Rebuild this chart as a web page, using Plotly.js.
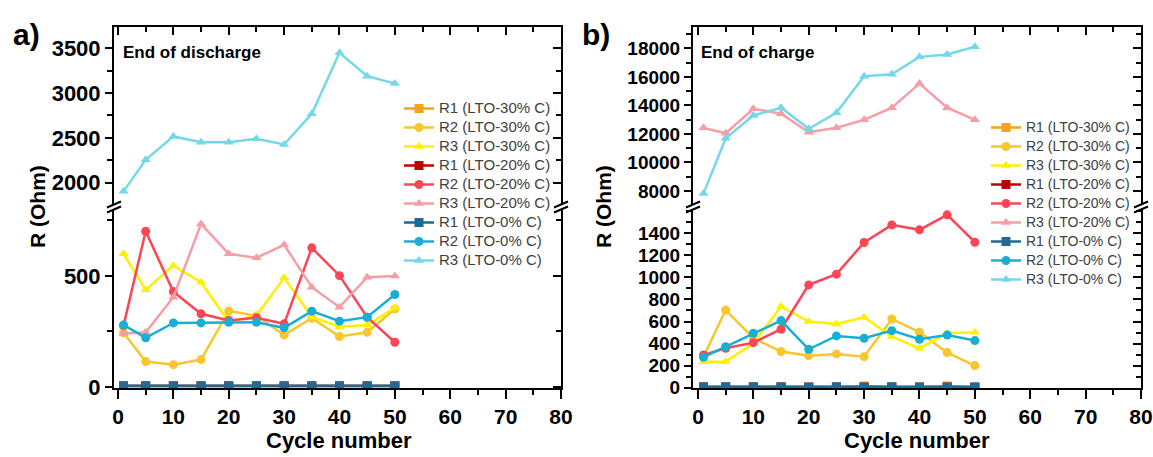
<!DOCTYPE html>
<html><head><meta charset="utf-8">
<script src="https://cdn.plot.ly/plotly-3.0.1.min.js"></script>
<style>html,body{margin:0;padding:0;background:#fff}#chart{width:1153px;height:457px}</style>
</head><body><div id="chart"></div>
<script>
// ---------------- data ----------------
const cycles = [1, 5, 10, 15, 20, 25, 30, 35, 40, 45, 50];
const seriesNames = ['R1 (LTO-30% C)', 'R2 (LTO-30% C)', 'R3 (LTO-30% C)',
                     'R1 (LTO-20% C)', 'R2 (LTO-20% C)', 'R3 (LTO-20% C)',
                     'R1 (LTO-0% C)', 'R2 (LTO-0% C)', 'R3 (LTO-0% C)'];

// a) End of discharge
const a_R1_30 = [4, 4, 4, 4, 4, 4, 4, 4, 4, 4, 4];
const a_R2_30 = [244, 114, 100, 123, 342, 320, 234, 309, 227, 246, 351];
const a_R3_30 = [599, 437, 546, 471, 293, 321, 491, 315, 271, 279, 356];
const a_R1_20 = [4, 4, 4, 4, 4, 4, 4, 4, 4, 4, 4];
const a_R2_20 = [276, 701, 429, 329, 299, 311, 284, 626, 501, 314, 201];
const a_R3_20 = [240, 246, 404, 734, 599, 581, 640, 449, 359, 494, 499];
const a_R1_0  = [5, 5, 5, 5, 5, 5, 5, 5, 5, 5, 5];
const a_R2_0  = [279, 221, 288, 288, 291, 291, 266, 341, 296, 314, 416];
const a_R3_0  = [1904, 2255, 2516, 2452, 2452, 2490, 2426, 2769, 3448, 3187, 3105];

// b) End of charge
const b_R1_30 = [5, 5, 5, 5, 5, 5, 15, 5, 5, 15, 5];
const b_R2_30 = [280, 704, 450, 327, 290, 306, 281, 623, 503, 318, 200];
const b_R3_30 = [236, 236, 403, 735, 599, 578, 639, 463, 357, 493, 503];
const b_R1_20 = [5, 5, 5, 5, 5, 5, 5, 5, 5, 5, 5];
const b_R2_20 = [297, 357, 408, 530, 932, 1029, 1316, 1476, 1431, 1567, 1319];
const b_R3_20 = [12425, 12044, 13766, 13413, 12114, 12425, 12989, 13836, 15530, 13836, 12987];
const b_R1_0  = [8, 8, 8, 8, 5, 8, 5, 8, 5, 5, 5];
const b_R2_0  = [276, 372, 493, 608, 348, 469, 448, 517, 439, 478, 427];
const b_R3_0  = [7810, 11690, 13293, 13836, 12354, 13483, 16045, 16186, 17407, 17577, 18113];

const panelA = [a_R1_30, a_R2_30, a_R3_30, a_R1_20, a_R2_20, a_R3_20, a_R1_0, a_R2_0, a_R3_0];
const panelB = [b_R1_30, b_R2_30, b_R3_30, b_R1_20, b_R2_20, b_R3_20, b_R1_0, b_R2_0, b_R3_0];

// tick labels
const aLowTicks = [0, 500];
const aUpTicks = [2000, 2500, 3000, 3500];
const bLowTicks = [0, 200, 400, 600, 800, 1000, 1200, 1400];
const bUpTicks = [8000, 10000, 12000, 14000, 16000, 18000];

// ---------------- style ----------------
const seriesColors = ['#F5A31A', '#F9C62E', '#FFF000', '#C00000', '#FA4655', '#F59EA6', '#1F6A96', '#18AFD4', '#75D8E8'];
const seriesSymbols = ['square', 'circle', 'triangle-up', 'square', 'circle', 'triangle-up', 'square', 'circle', 'triangle-up'];

const W = 1153, H = 457;
const px = v => v / W, py = v => 1 - v / H;
const FONT = 'Liberation Sans, Arial, sans-serif';

const yLowDom = [py(388), py(209)];
const yUpDom = [py(205), py(27)];

const ranges = {
  a: {x: [-0.72, 80], low: [-5, 801], up: [1752, 3735]},
  b: {x: [-0.9, 80], low: [-3, 1620], up: [7010, 19503]}
};

function makeTraces(values, xa, yLow, yUp, lowTop, legendId, legendSize) {
  return values.map((vals, i) => ({
    type: 'scatter', mode: 'lines+markers',
    x: cycles, y: vals,
    name: '<span style="font-size:' + legendSize + 'px">' + seriesNames[i] + '</span>',
    xaxis: xa, yaxis: Math.max(...vals) > lowTop ? yUp : yLow,
    legend: legendId,
    line: {color: seriesColors[i], width: 2.5},
    marker: {color: seriesColors[i], symbol: seriesSymbols[i], size: 9}
  }));
}

const dummy = (xa, ya) => ({type: 'scatter', x: [], y: [], xaxis: xa, yaxis: ya, showlegend: false, hoverinfo: 'skip'});

const traces = [
  ...makeTraces(panelA, 'x', 'y', 'y2', ranges.a.low[1], 'legend', 15),
  ...makeTraces(panelB, 'x2', 'y3', 'y4', ranges.b.low[1], 'legend2', 14),
  dummy('x3', 'y2'), dummy('x', 'y5'), dummy('x', 'y6'),
  dummy('x4', 'y4'), dummy('x2', 'y7'), dummy('x2', 'y8')
];

const xTickFont = {family: FONT, size: 21, color: '#000', weight: 'bold'};
const yTickFontA = {family: FONT, size: 22, color: '#000', weight: 'bold'};
const yTickFontB = {family: FONT, size: 19, color: '#000', weight: 'bold'};
const base = {showgrid: false, zeroline: false, showline: true, linecolor: '#000', linewidth: 2,
              tickcolor: '#000', tickwidth: 2, fixedrange: true, automargin: false, separatethousands: false,
              exponentformat: 'none'};

function xBottom(dom, range) {
  return Object.assign({}, base, {domain: dom, range: range, dtick: 10, tick0: 0, ticks: 'outside', ticklen: 9,
    tickfont: xTickFont,
    minor: {dtick: 5, tick0: 0, ticks: 'outside', ticklen: 5, tickwidth: 2, tickcolor: '#000'}});
}
function xTop(over, anchor, dom, range) {
  return Object.assign({}, base, {overlaying: over, anchor: anchor, side: 'top', domain: dom, range: range,
    dtick: 10, tick0: 0, ticks: 'inside', ticklen: 8, showticklabels: false,
    minor: {dtick: 5, tick0: 0, ticks: 'inside', ticklen: 5, tickwidth: 2, tickcolor: '#000'}});
}
function yLeft(anchor, dom, range, tv, mdt, font) {
  return Object.assign({}, base, {anchor: anchor, domain: dom, range: range, tickmode: 'array', tickvals: tv,
    ticktext: tv.map(String), ticks: 'outside', ticklen: 7, tickfont: font,
    minor: {dtick: mdt, tick0: 0, ticks: 'outside', ticklen: 5, tickwidth: 2, tickcolor: '#000'}});
}
function yRight(over, anchor, dom, range, tv, mdt) {
  return Object.assign({}, base, {overlaying: over, anchor: anchor, side: 'right', domain: dom, range: range,
    tickmode: 'array', tickvals: tv, ticks: 'inside', ticklen: 8, showticklabels: false,
    minor: {dtick: mdt, tick0: 0, ticks: 'inside', ticklen: 5, tickwidth: 2, tickcolor: '#000'}});
}

const xDomA = [px(114), px(561)];
const xDomB = [px(693), px(1141)];

// break marks
const shapes = [];
[114, 561, 693, 1141].forEach(xc => {
  [-2.5, 2.5].forEach(d => {
    shapes.push({type: 'line', xref: 'paper', yref: 'paper',
      x0: px(xc - 7), y0: py(207 + 3 + d), x1: px(xc + 7), y1: py(207 - 3 + d),
      line: {color: '#000', width: 2}});
  });
});

const ann = (text, x, y, size, extra) => Object.assign({text: text, x: px(x), y: py(y), xref: 'paper', yref: 'paper',
  xanchor: 'center', yanchor: 'middle',
  showarrow: false, font: {family: FONT, size: size, color: '#000', weight: 'bold'}}, extra || {});

const annotations = [
  ann('a)', 26, 35, 30),
  ann('b)', 596, 35, 30),
  ann('End of discharge', 121, 52, 17, {xanchor: 'left'}),
  ann('End of charge', 699, 52, 17, {xanchor: 'left'}),
  ann('R (Ohm)', 37, 207, 21, {textangle: -90}),
  ann('R (Ohm)', 603, 207, 21, {textangle: -90}),
  ann('Cycle number', 339, 440, 22),
  ann('Cycle number', 917, 440, 22)
];

const legendBase = {bgcolor: 'rgba(0,0,0,0)', borderwidth: 0, xanchor: 'left', yanchor: 'top', tracegroupgap: 0,
  itemclick: false, itemdoubleclick: false};

const layout = {
  width: W, height: H, autosize: false,
  margin: {l: 0, r: 0, t: 0, b: 0, pad: 0},
  paper_bgcolor: '#fff', plot_bgcolor: 'rgba(0,0,0,0)',
  hovermode: false,
  xaxis: Object.assign(xBottom(xDomA, ranges.a.x), {anchor: 'y'}),
  yaxis: yLeft('x', yLowDom, ranges.a.low, aLowTicks, 250, yTickFontA),
  yaxis2: yLeft('x', yUpDom, ranges.a.up, aUpTicks, 250, yTickFontA),
  xaxis3: xTop('x', 'y2', xDomA, ranges.a.x),
  yaxis5: yRight('y', 'x', yLowDom, ranges.a.low, aLowTicks, 250),
  yaxis6: yRight('y2', 'x', yUpDom, ranges.a.up, aUpTicks, 250),
  xaxis2: Object.assign(xBottom(xDomB, ranges.b.x), {anchor: 'y3'}),
  yaxis3: yLeft('x2', yLowDom, ranges.b.low, bLowTicks, 100, yTickFontB),
  yaxis4: yLeft('x2', yUpDom, ranges.b.up, bUpTicks, 1000, yTickFontB),
  xaxis4: xTop('x2', 'y4', xDomB, ranges.b.x),
  yaxis7: yRight('y3', 'x2', yLowDom, ranges.b.low, bLowTicks, 100),
  yaxis8: yRight('y4', 'x2', yUpDom, ranges.b.up, bUpTicks, 1000),
  legend: Object.assign({}, legendBase, {x: px(399), y: py(94), font: {family: FONT, size: 12.3, color: '#404040'}}),
  legend2: Object.assign({}, legendBase, {x: px(986), y: py(113), font: {family: FONT, size: 11.3, color: '#404040'}}),
  shapes: shapes,
  annotations: annotations
};

Plotly.newPlot('chart', traces, layout, {staticPlot: true, displayModeBar: false});
</script>
</body></html>
